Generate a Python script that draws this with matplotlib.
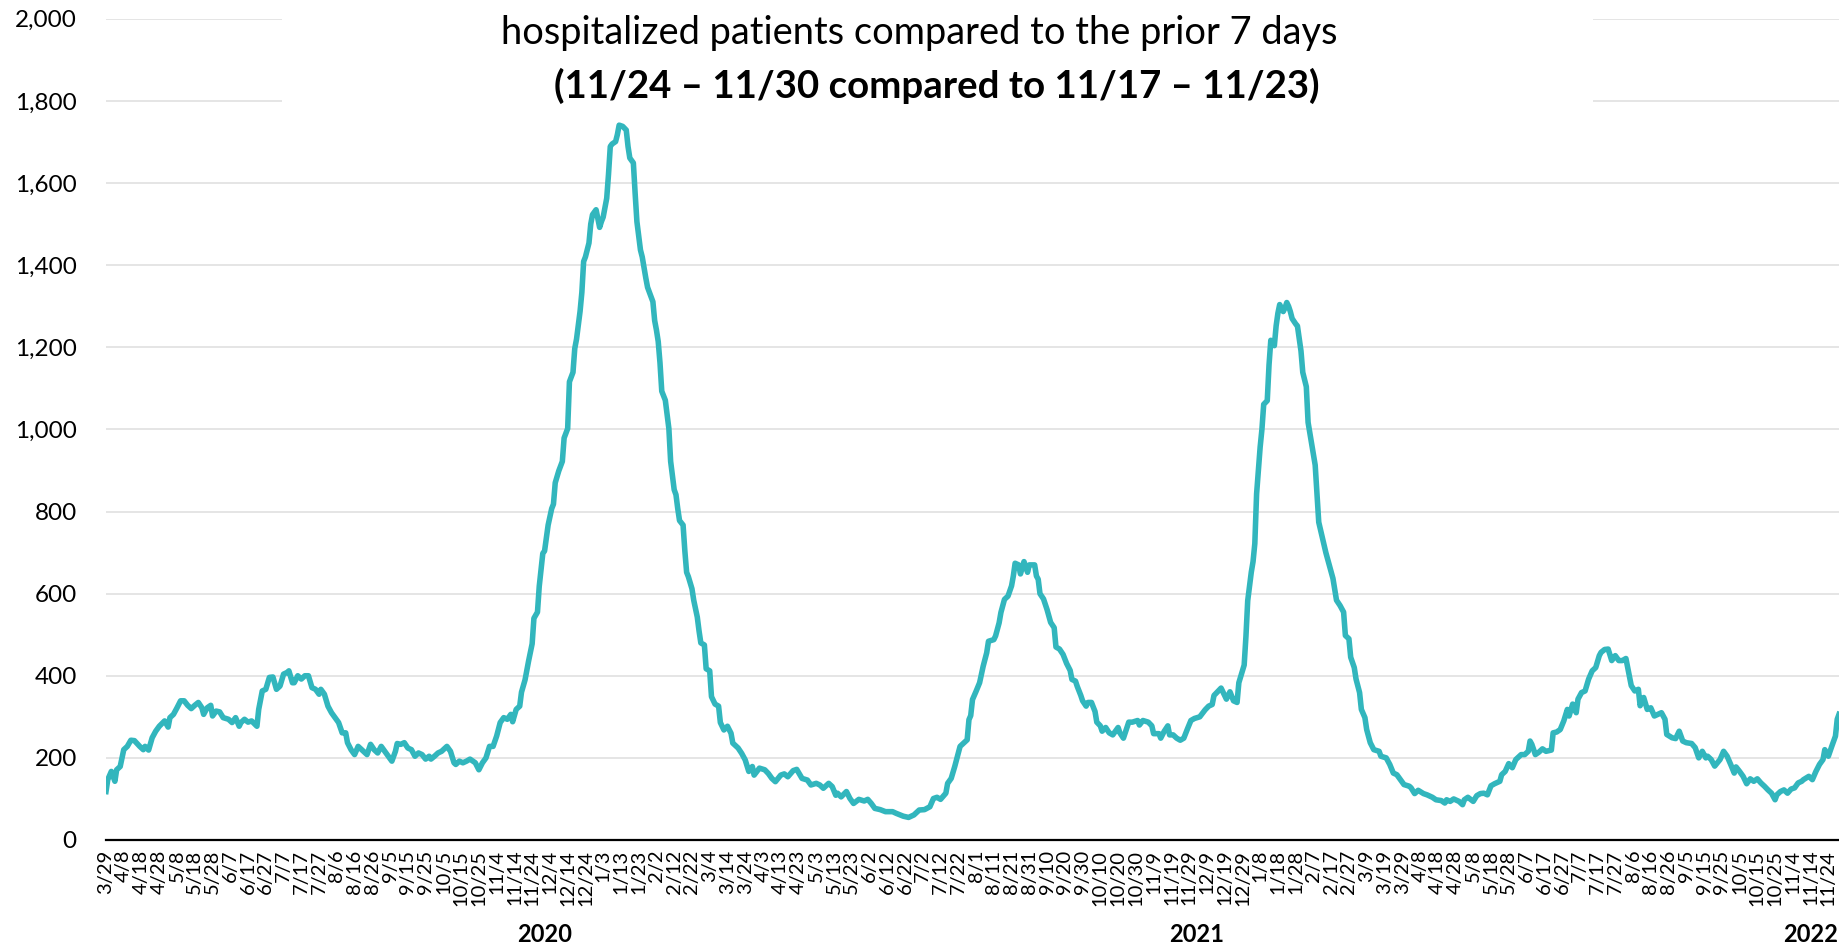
import datetime as dt
import matplotlib
matplotlib.use("Agg")
import matplotlib.pyplot as plt
from matplotlib.patches import Rectangle
from matplotlib.ticker import FuncFormatter, MultipleLocator

plt.rcParams['font.family'] = ['Lato', 'DejaVu Sans']

# daily series (day offset from 3/29/2020, patients)
start_date = dt.date(2020, 3, 29)
last_day = 976

day_offset = [
    0, 1, 3, 5, 6, 8, 10, 12, 14, 16, 19, 21, 22, 24, 26, 28, 30, 33, 35, 36,
    38, 40, 42, 44, 46, 48, 50, 52, 54, 55, 57, 59, 60, 62, 64, 66, 69, 71, 73, 75,
    76, 78, 80, 82, 85, 86, 88, 90, 92, 94, 96, 98, 100, 102, 103, 105, 106, 108, 110, 112,
    114, 116, 118, 120, 121, 123, 125, 127, 129, 131, 133, 135, 136, 138, 140, 142, 145, 147, 149, 151,
    153, 155, 157, 161, 163, 164, 166, 168, 170, 172, 174, 176, 178, 180, 182, 183, 185, 187, 189, 192,
    194, 196, 197, 199, 201, 203, 205, 208, 210, 212, 214, 216, 218, 220, 222, 224, 226, 228, 229, 231,
    233, 234, 236, 238, 240, 241, 243, 244, 246, 247, 249, 251, 252, 253, 255, 257, 258, 260, 261, 263,
    264, 265, 267, 268, 269, 270, 272, 273, 274, 276, 278, 279, 280, 282, 283, 284, 285, 287, 288, 289,
    291, 293, 294, 295, 297, 298, 299, 301, 302, 304, 305, 307, 308, 309, 310, 311, 312, 313, 315, 317,
    318, 320, 321, 322, 323, 325, 326, 327, 328, 330, 331, 333, 334, 335, 337, 338, 340, 341, 343, 345,
    346, 348, 350, 352, 353, 356, 358, 360, 362, 364, 365, 368, 371, 373, 375, 377, 380, 382, 384, 387,
    389, 392, 395, 397, 400, 402, 404, 407, 409, 411, 412, 414, 417, 419, 421, 424, 427, 429, 431, 433,
    436, 439, 443, 445, 449, 452, 455, 458, 461, 464, 466, 468, 470, 473, 474, 476, 478, 479, 481, 483,
    485, 486, 487, 488, 490, 492, 494, 496, 497, 500, 501, 503, 504, 506, 508, 510, 511, 512, 514, 515,
    517, 519, 520, 523, 524, 525, 526, 528, 530, 532, 534, 535, 537, 539, 541, 543, 544, 546, 547, 549,
    550, 552, 553, 555, 557, 558, 560, 561, 563, 565, 567, 570, 571, 573, 574, 576, 578, 581, 582, 584,
    587, 589, 590, 593, 594, 596, 598, 599, 601, 603, 605, 607, 609, 611, 613, 616, 619, 621, 623, 624,
    626, 628, 631, 633, 635, 637, 638, 641, 642, 643, 645, 646, 647, 648, 650, 651, 652, 654, 655, 656,
    658, 659, 660, 661, 663, 664, 665, 666, 667, 668, 670, 671, 673, 674, 676, 677, 678, 680, 681, 682,
    683, 687, 691, 693, 695, 697, 698, 700, 701, 703, 704, 706, 707, 709, 710, 712, 714, 717, 718, 721,
    723, 725, 727, 729, 731, 734, 735, 737, 739, 742, 744, 747, 749, 752, 754, 755, 757, 759, 762, 764,
    765, 767, 770, 772, 774, 776, 778, 780, 782, 785, 786, 788, 790, 792, 794, 797, 799, 801, 802, 803,
    805, 807, 809, 811, 814, 815, 817, 819, 821, 823, 824, 826, 828, 829, 831, 833, 835, 837, 839, 841,
    842, 844, 846, 848, 850, 852, 854, 856, 857, 859, 861, 863, 864, 866, 868, 870, 872, 874, 876, 878,
    879, 882, 884, 886, 888, 890, 893, 895, 897, 899, 901, 902, 904, 906, 909, 911, 913, 915, 917, 918,
    920, 922, 924, 926, 928, 930, 932, 934, 936, 938, 940, 941, 943, 945, 947, 949, 951, 953, 955, 956,
    959, 961, 963, 965, 967, 968, 970, 972, 974, 975, 976,
]

patients = [
    118, 147, 167, 143, 171, 179, 220, 228, 243, 242, 228, 220, 228, 219, 249, 265, 277, 290, 275, 298,
    306, 322, 339, 339, 328, 320, 328, 335, 322, 306, 322, 328, 302, 314, 312, 298, 294, 286, 298, 277,
    286, 294, 287, 290, 277, 318, 363, 367, 396, 397, 367, 375, 404, 408, 412, 383, 383, 400, 392, 400,
    400, 371, 367, 355, 367, 355, 326, 310, 298, 286, 261, 261, 237, 220, 208, 228, 216, 208, 233, 220,
    212, 228, 216, 192, 216, 235, 233, 237, 224, 220, 204, 212, 208, 197, 204, 197, 204, 212, 216, 228,
    216, 188, 184, 192, 188, 192, 197, 188, 171, 188, 200, 228, 228, 253, 286, 298, 294, 306, 288, 318,
    326, 360, 390, 436, 478, 540, 555, 618, 698, 704, 767, 807, 818, 870, 899, 922, 979, 1002, 1116, 1139,
    1197, 1220, 1288, 1334, 1409, 1420, 1454, 1500, 1523, 1535, 1492, 1506, 1517, 1563, 1621, 1689, 1695, 1701, 1718, 1741,
    1738, 1729, 1689, 1661, 1649, 1575, 1506, 1437, 1420, 1369, 1346, 1323, 1311, 1265, 1242, 1214, 1162, 1093, 1071, 1002,
    922, 853, 841, 807, 778, 767, 704, 652, 641, 612, 584, 543, 509, 480, 475, 417, 412, 349, 331, 326,
    286, 268, 277, 260, 236, 224, 211, 195, 167, 179, 158, 175, 171, 162, 150, 142, 158, 161, 154, 169,
    172, 150, 146, 134, 138, 134, 126, 138, 130, 109, 114, 105, 118, 101, 89, 99, 95, 99, 89, 77,
    74, 69, 69, 65, 58, 55, 61, 73, 74, 81, 101, 104, 99, 114, 138, 150, 179, 195, 228, 236,
    244, 293, 303, 342, 362, 383, 423, 456, 484, 488, 497, 529, 554, 586, 594, 619, 643, 674, 670, 648,
    678, 652, 670, 670, 643, 635, 600, 587, 561, 530, 517, 470, 465, 452, 430, 413, 391, 387, 374, 352,
    339, 326, 335, 335, 313, 287, 278, 265, 274, 261, 256, 274, 261, 248, 261, 287, 287, 291, 280, 291,
    287, 278, 259, 259, 248, 265, 278, 256, 256, 248, 243, 248, 270, 291, 296, 300, 317, 326, 330, 352,
    361, 370, 343, 361, 339, 335, 383, 426, 496, 583, 652, 678, 722, 843, 957, 1000, 1061, 1070, 1157, 1217,
    1204, 1252, 1283, 1304, 1287, 1296, 1309, 1300, 1287, 1270, 1257, 1252, 1191, 1139, 1104, 1017, 991, 939, 913, 843,
    774, 700, 637, 584, 571, 555, 498, 490, 445, 420, 392, 359, 318, 298, 269, 237, 220, 216, 204, 200,
    184, 163, 159, 147, 135, 131, 127, 113, 121, 113, 110, 104, 98, 96, 90, 98, 94, 100, 94, 86,
    98, 104, 94, 108, 113, 114, 110, 132, 137, 143, 159, 167, 186, 176, 196, 208, 208, 216, 241, 233,
    208, 214, 222, 216, 219, 261, 263, 269, 290, 318, 302, 331, 310, 343, 359, 363, 392, 412, 420, 449,
    457, 464, 465, 437, 449, 437, 437, 442, 420, 376, 363, 367, 327, 347, 318, 322, 302, 306, 310, 294,
    257, 249, 247, 265, 241, 237, 235, 225, 200, 216, 200, 204, 196, 180, 196, 216, 204, 184, 163, 178,
    167, 155, 137, 149, 143, 149, 139, 131, 122, 114, 98, 110, 118, 122, 114, 124, 127, 139, 143, 147,
    155, 147, 167, 184, 196, 220, 204, 229, 253, 294, 306,
]

year_labels = ['2020', '2021', '2022']
year_pos = [247, 614, 960]

title_1 = 'hospitalized patients compared to the prior 7 days'
title_2 = '(11/24 \u2013 11/30 compared to 11/17 \u2013 11/23)'

W, H = 1839, 944
fig = plt.figure(figsize=(W / 100, H / 100), dpi=100)
ax = fig.add_axes([106 / W, 104 / H, 1 - 106 / W, 821.2 / H])

ax.plot(day_offset, patients, color='#32B6BD', lw=4.0, solid_joinstyle='round', zorder=3)

ax.set_xlim(0, last_day)
ax.set_ylim(0, 2000)
ax.yaxis.set_major_locator(MultipleLocator(200))
ax.yaxis.set_major_formatter(FuncFormatter(lambda v, p: f'{int(v):,}'))
ax.grid(axis='y', color='#e3e3e3', lw=1.3)
ax.set_axisbelow(True)

tick_days = list(range(0, last_day + 1, 10))
tick_lbls = []
for d in tick_days:
    t = start_date + dt.timedelta(days=d)
    tick_lbls.append(f'{t.month}/{t.day}')
ax.set_xticks(tick_days)
ax.set_xticklabels(tick_lbls, rotation=90, fontsize=14.5)
ax.tick_params(axis='x', length=0, pad=7)
ax.tick_params(axis='y', length=0, pad=21, labelsize=17.5)

for s in ['top', 'right', 'left']:
    ax.spines[s].set_visible(False)
ax.spines['bottom'].set_linewidth(1.6)
ax.spines['bottom'].set_color('black')

for lbl, pos in zip(year_labels, year_pos):
    ax.text(pos, -0.1145, lbl, transform=ax.get_xaxis_transform(), ha='center', va='center',
            fontsize=17, fontweight='bold', clip_on=False)

# white box behind the title hides the top gridlines
ax.add_patch(Rectangle((282 / W, 1 - 115 / H), (1593 - 282) / W, 115 / H,
                       transform=fig.transFigure, facecolor='white', edgecolor='none',
                       zorder=1, clip_on=False))

fig.text(919.5 / W, 1 - 33 / H, title_1, ha='center', va='center', fontsize=27.4)
fig.text(937 / W, 1 - 86 / H, title_2, ha='center', va='center', fontsize=27.6, fontweight='bold')

fig.savefig('out.png', dpi=100)
